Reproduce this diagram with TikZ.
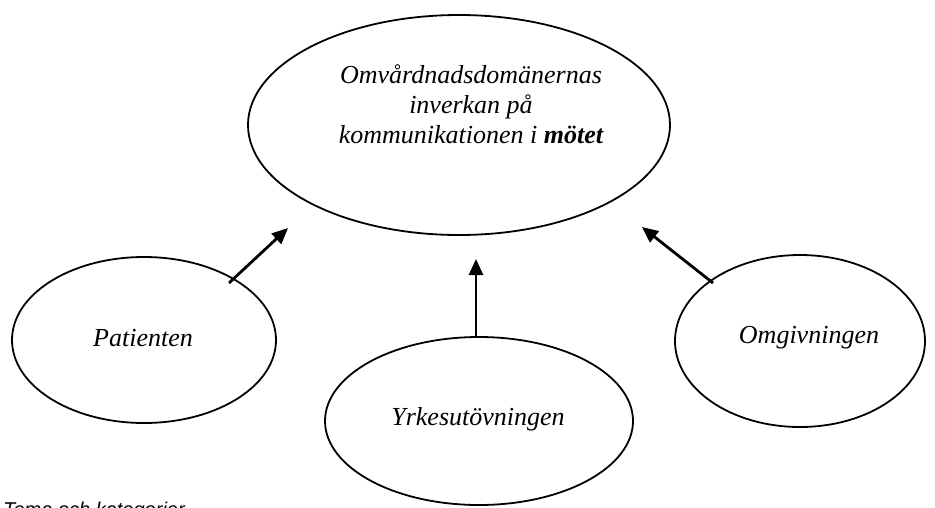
\documentclass[tikz,border=0pt]{standalone}
\usepackage{fontspec}
\setmainfont{Liberation Serif}
\setsansfont{Liberation Sans}
\usetikzlibrary{shapes.geometric,arrows.meta}
\begin{document}
\begin{tikzpicture}[x=1pt,y=-1pt,
  oval/.style={draw=black,line width=1.8pt,ellipse,inner sep=0pt},
  lbl/.style={font=\fontsize{26}{30}\selectfont\itshape,align=center,inner sep=0pt},
  arr/.style={line width=2.8pt,-{Triangle[length=16pt,width=14pt]}}]
\useasboundingbox (0,0) rectangle (935,507);
\node[oval,minimum width=422pt,minimum height=220pt] (main) at (459,125) {};
\node[oval,minimum width=264pt,minimum height=166pt] (pat) at (144,340) {};
\node[oval,minimum width=308pt,minimum height=168pt] (yrk) at (479,421) {};
\node[oval,minimum width=250pt,minimum height=172pt] (omg) at (800,341) {};
\node[lbl,anchor=base] (tmain) at (471,143) {Omvårdnadsdomänernas\\inverkan på\\kommunikationen i \textbf{mötet}};
\node[lbl,anchor=base] (tpat) at (143,346) {Patienten};
\node[lbl,anchor=base] (tyrk) at (478,425) {Yrkesutövningen};
\node[lbl,anchor=base] (tomg) at (809,343) {Omgivningen};
\node[font=\sffamily\itshape\fontsize{20}{24}\selectfont,anchor=base west,inner sep=0pt] (cap) at (3,516) {Tema och kategorier};
\coordinate (a1s) at (229,283);
\coordinate (a1e) at (288,228);
\coordinate (a2s) at (476,337);
\coordinate (a2e) at (476,259);
\coordinate (a3s) at (713,283);
\coordinate (a3e) at (642,227);
\draw[arr] (a1s) -- (a1e);
\draw[arr] (a2s) -- (a2e);
\draw[arr] (a3s) -- (a3e);
\end{tikzpicture}
\end{document}
